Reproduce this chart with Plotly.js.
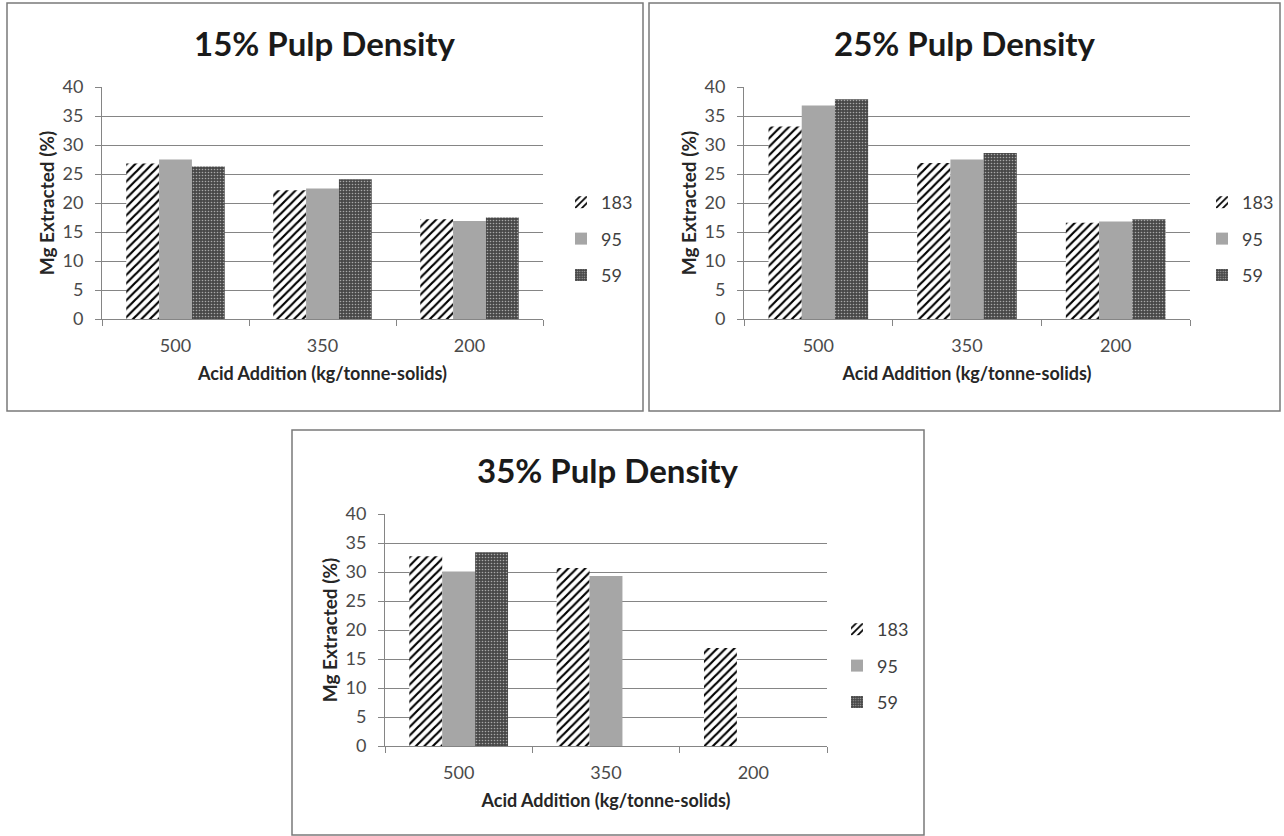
<!DOCTYPE html>
<html>
<head>
<meta charset="utf-8">
<script src="https://cdn.plot.ly/plotly-3.0.1.min.js"></script>
<style>
html,body{margin:0;padding:0;background:#fff;}
#chart{width:1284px;height:836px;}
</style>
</head>
<body>
<div id="chart"></div>
<script>
// ---- data ----
const categories = ["500", "350", "200"];
const seriesNames = ["183", "95", "59"];
const chartTitles = ["15% Pulp Density", "25% Pulp Density", "35% Pulp Density"];
const xAxisTitle = "Acid Addition (kg/tonne-solids)";
const yAxisTitle = "Mg Extracted (%)";

// 15% pulp density
const pd15_s183 = [26.8, 22.2, 17.2];
const pd15_s95  = [27.5, 22.5, 16.9];
const pd15_s59  = [26.3, 24.1, 17.5];
// 25% pulp density
const pd25_s183 = [33.2, 26.9, 16.6];
const pd25_s95  = [36.8, 27.5, 16.8];
const pd25_s59  = [37.9, 28.6, 17.2];
// 35% pulp density
const pd35_s183 = [32.7, 30.7, 16.9];
const pd35_s95  = [30.1, 29.3, null];
const pd35_s59  = [33.4, null, null];

const chartData = [
  [pd15_s183, pd15_s95, pd15_s59],
  [pd25_s183, pd25_s95, pd25_s59],
  [pd35_s183, pd35_s95, pd35_s59]
];

// ---- layout helpers (pixel -> paper) ----
const W = 1284, H = 836;
const px = v => v / W;
const py = v => 1 - v / H;

const FONT = "Lato, 'Open Sans', sans-serif";
const GRID = "#858585";

const markerStyles = [
  {color: "white", line: {width: 0}, pattern: {shape: "/", fgcolor: "#000000", bgcolor: "#ffffff", size: 6, solidity: 0.36}},
  {color: "#a6a6a6", line: {width: 0}},
  {color: "#484848", line: {width: 0}, pattern: {shape: ".", fgcolor: "#a8a8a8", bgcolor: "#484848", size: 3, solidity: 0.22}}
];

// plot areas in px: [left, right, top(40), bottom(0)]
const areas = [
  [102, 543, 87, 319],
  [744, 1190, 87, 319],
  [385, 827, 514, 746]
];
// boxes in px: [x0, x1, y0, y1]
const boxes = [
  [7, 643, 3, 411],
  [649, 1280, 3, 411],
  [292, 924, 430, 835]
];
// legend anchor (px): symbol centre x, top y
const legendPos = [
  [586, 184],
  [1227, 184],
  [862, 611]
];

const traces = [];
chartData.forEach((series, c) => {
  const sfx = c === 0 ? "" : String(c + 1);
  series.forEach((vals, s) => {
    traces.push({
      type: "bar",
      x: categories,
      y: vals,
      name: seriesNames[s],
      xaxis: "x" + sfx,
      yaxis: "y" + sfx,
      legend: "legend" + sfx,
      legendgroup: "c" + c + "s" + s,
      marker: markerStyles[s],
      hoverinfo: "skip"
    });
  });
});

const layout = {
  width: W, height: H, autosize: false,
  margin: {l: 0, r: 0, t: 0, b: 0, pad: 0},
  paper_bgcolor: "#ffffff",
  plot_bgcolor: "rgba(0,0,0,0)",
  barmode: "group",
  bargap: 0.33,
  bargroupgap: 0,
  font: {family: FONT, color: "#4a4a4a", size: 18},
  shapes: [],
  annotations: []
};

areas.forEach((a, c) => {
  const sfx = c === 0 ? "" : String(c + 1);
  layout["xaxis" + sfx] = {
    domain: [px(a[0]), px(a[1])],
    anchor: "y" + sfx,
    type: "category",
    categoryorder: "array",
    categoryarray: categories,
    showline: true, linecolor: GRID, linewidth: 1,
    ticks: "outside", tickson: "boundaries", ticklen: 6, tickcolor: GRID,
    ticklabelstandoff: 10,
    tickfont: {family: FONT, size: 18, color: "#4a4a4a"},
    showgrid: false, zeroline: false, fixedrange: true,
    title: {text: xAxisTitle, standoff: 12, font: {family: FONT, size: 18, color: "#262626", weight: "bold"}}
  };
  layout["yaxis" + sfx] = {
    domain: [py(a[3]), py(a[2])],
    anchor: "x" + sfx,
    range: [0, 40], dtick: 5, tick0: 0,
    showline: true, linecolor: GRID, linewidth: 1,
    ticks: "outside", ticklen: 6, tickcolor: GRID,
    ticklabelstandoff: 8,
    tickfont: {family: FONT, size: 18, color: "#4a4a4a"},
    showgrid: true, gridcolor: GRID, gridwidth: 1,
    zeroline: false, fixedrange: true,
    title: {text: yAxisTitle, standoff: 2, font: {family: FONT, size: 19, color: "#262626", weight: "bold"}}
  };
  const lp = legendPos[c];
  layout["legend" + sfx] = {
    x: px(lp[0] - 25), y: py(lp[1]),
    xanchor: "left", yanchor: "top",
    bgcolor: "rgba(0,0,0,0)",
    font: {family: FONT, size: 18, color: "#404040"},
    tracegroupgap: 10,
    itemclick: false, itemdoubleclick: false
  };
  const b = boxes[c];
  layout.shapes.push({
    type: "rect", xref: "paper", yref: "paper",
    x0: px(b[0]), x1: px(b[1]), y0: py(b[3]), y1: py(b[2]),
    line: {color: "#7a7a7a", width: 1.5}, fillcolor: "rgba(0,0,0,0)", layer: "below"
  });
  layout.annotations.push({
    text: chartTitles[c], xref: "paper", yref: "paper",
    x: px((b[0] + b[1]) / 2), y: py(b[2] + 40),
    xanchor: "center", yanchor: "middle", showarrow: false,
    font: {family: FONT, size: 33, color: "#1a1a1a", weight: "bold"}
  });
});

Plotly.newPlot("chart", traces, layout, {displayModeBar: false, staticPlot: true});
</script>
</body>
</html>
